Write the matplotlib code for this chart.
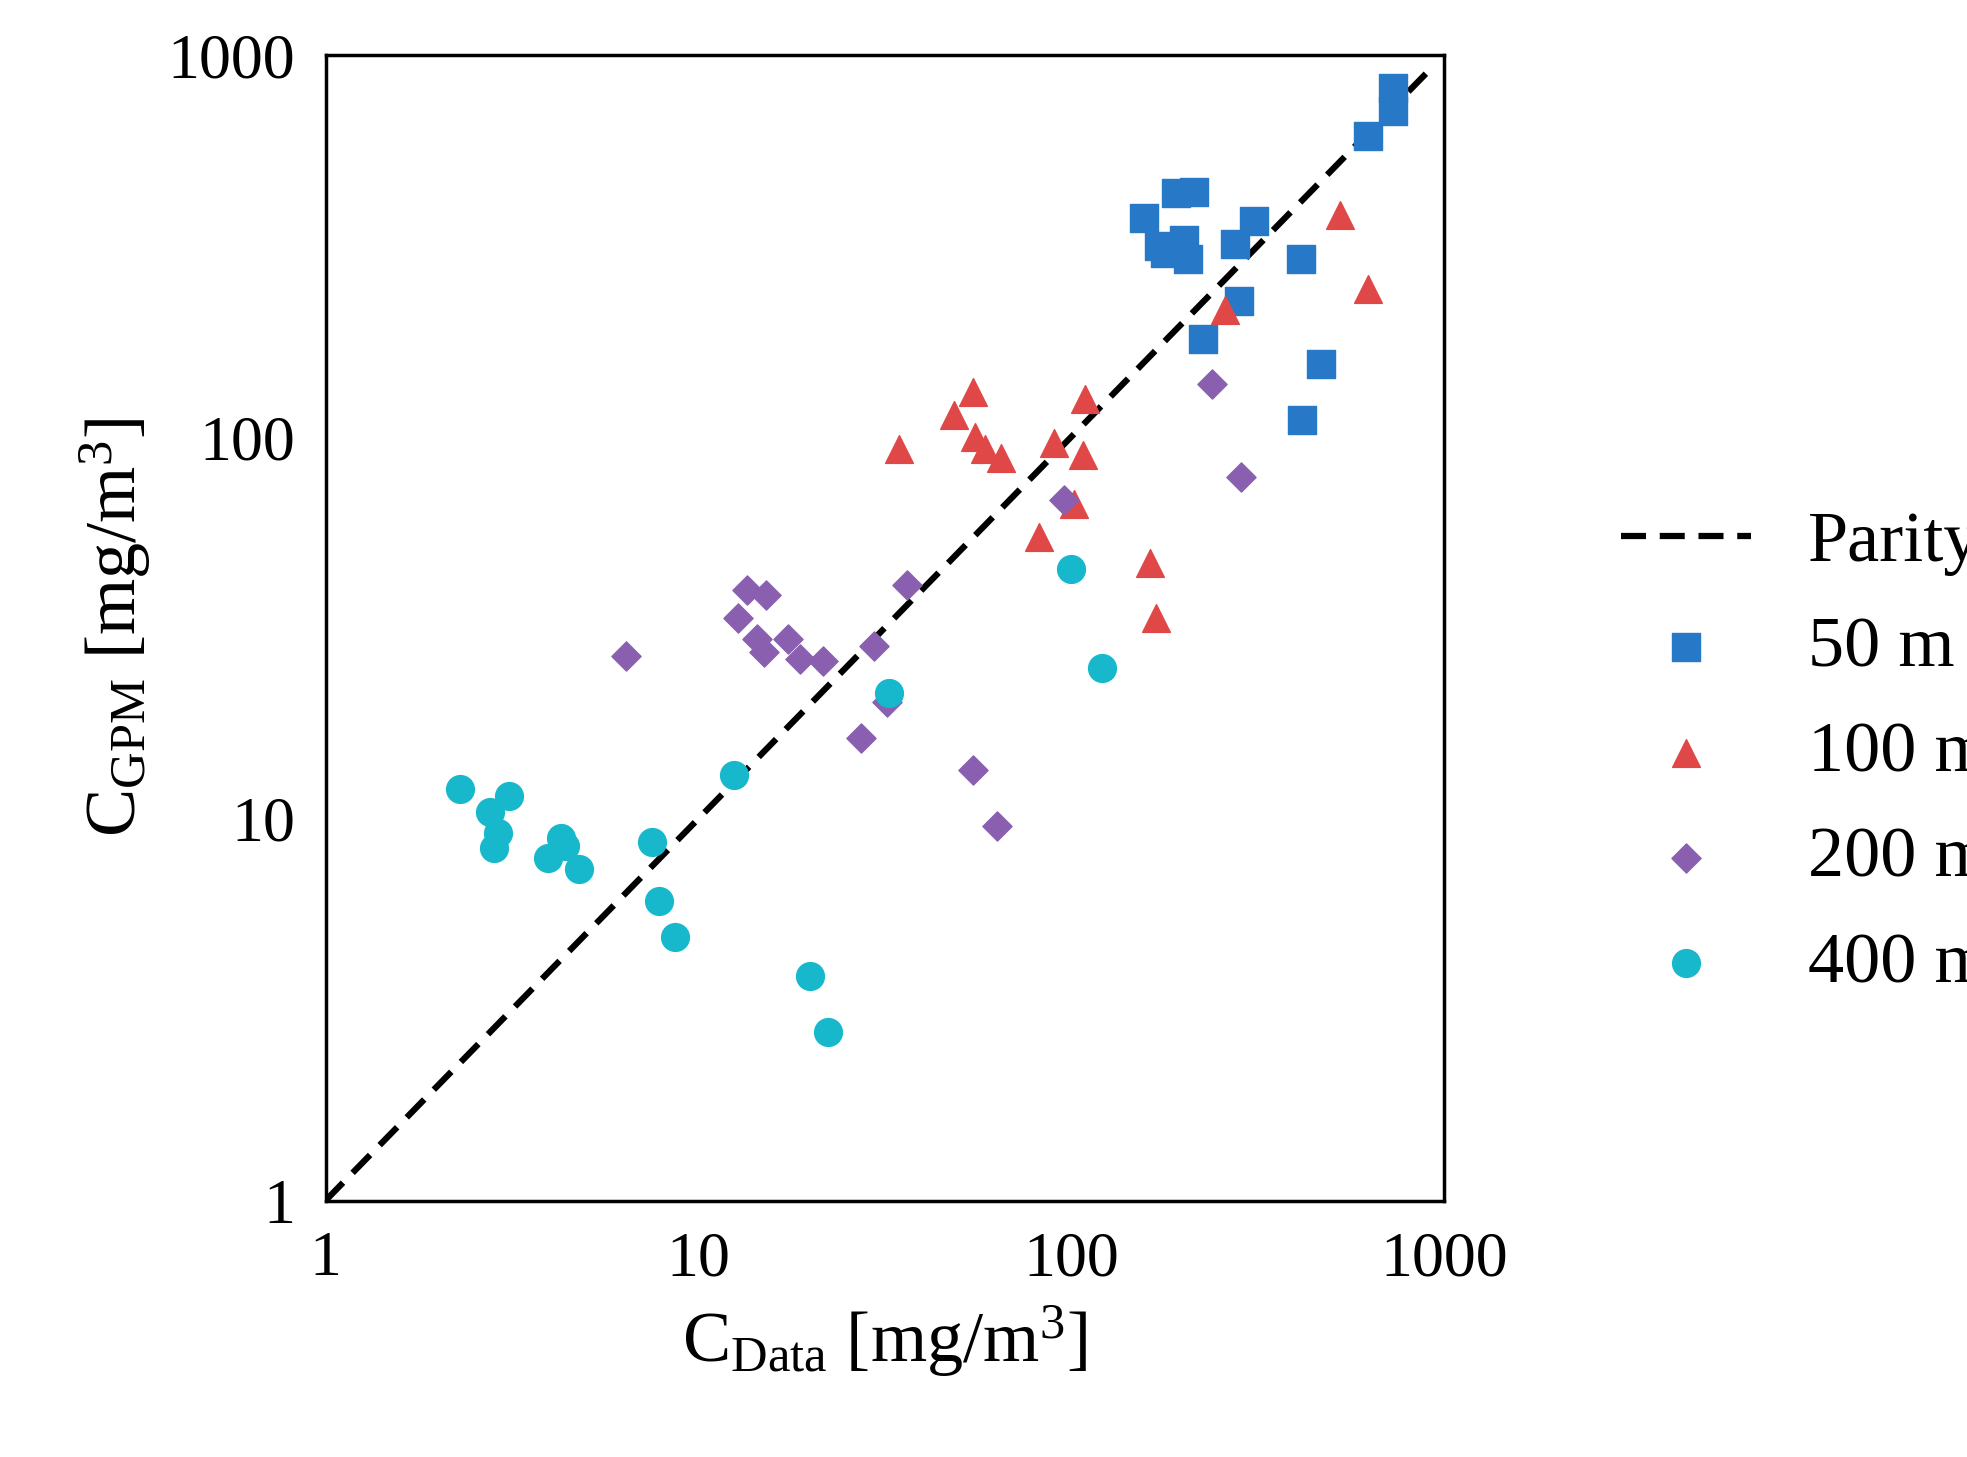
import matplotlib
matplotlib.use("Agg")
import matplotlib.pyplot as plt
from matplotlib.ticker import FixedLocator, NullLocator

plt.rcParams['font.family'] = 'Liberation Serif'
plt.rcParams['mathtext.fontset'] = 'custom'
plt.rcParams['mathtext.rm'] = 'Liberation Serif'
plt.rcParams['mathtext.it'] = 'Liberation Serif:italic'

x50 = [731, 731, 626, 157, 191, 214, 172, 201, 179, 206, 275, 310, 413, 282, 226, 469, 417]
y50 = [820, 715, 613, 376, 435, 438, 316, 328, 304, 293, 321, 368, 293, 227, 181, 155, 111]
x100 = [527, 626, 259, 48.5, 54.5, 55.3, 58.9, 64.7, 34.6, 89.9, 109, 108, 102, 81.8, 163, 169]
y100 = [382, 245, 215, 114, 131, 100, 93, 88, 93, 96.6, 126, 89.5, 66.9, 54.8, 46.7, 33.6]
x200 = [239, 286, 95.7, 6.4, 12.8, 13.5, 15.2, 14.4, 15.0, 17.4, 18.8, 21.6, 29.6, 36.3, 27.4, 32.0, 54.5, 63.2]
y200 = [138, 78.5, 68.4, 26.7, 33.6, 39.8, 38.6, 29.5, 27.3, 29.5, 26.3, 25.9, 28.4, 41.0, 16.3, 20.2, 13.4, 9.6]
x400 = [100, 121, 32.5, 12.5, 2.29, 3.11, 2.77, 2.90, 2.83, 4.29, 4.39, 3.94, 4.78, 7.53, 7.83, 8.67, 20.0, 22.3]
y400 = [45, 24.8, 21.3, 13.0, 12.0, 11.5, 10.4, 9.2, 8.4, 8.9, 8.5, 7.9, 7.4, 8.7, 6.1, 4.9, 3.87, 2.76]
parity = [1, 925]
ticks = [1, 10, 100, 1000]
tick_labels = ["1", "10", "100", "1000"]

fig = plt.figure(figsize=(19.67, 14.57), dpi=100)
ax = fig.add_axes([0.1655, 0.176, 0.5685, 0.786])
ax.plot(parity, parity, ls=(0, (4, 2.2)), color='black', lw=4.5, label='Parity', zorder=1)
ms = 400
ax.scatter(x50, y50, marker='s', s=ms, color='#2878c8', label='50 m', zorder=3)
ax.scatter(x100, y100, marker='^', s=ms, color='#e04848', label='100 m', zorder=3)
ax.scatter(x200, y200, marker='D', s=ms*0.55, color='#8a5fb0', label='200 m', zorder=3)
ax.scatter(x400, y400, marker='o', s=ms, color='#17b8cc', label='400 m', zorder=3)
ax.set_xscale('log'); ax.set_yscale('log')
ax.set_xlim(1, 1000); ax.set_ylim(1, 1000)
for a in (ax.xaxis, ax.yaxis):
    a.set_major_locator(FixedLocator(ticks))
    a.set_minor_locator(NullLocator())
ax.set_xticklabels(tick_labels); ax.set_yticklabels(tick_labels)
ax.tick_params(length=0, labelsize=46, pad=22)
for s in ax.spines.values():
    s.set_linewidth(2.5)
ax.set_xlabel(r'C$_{\mathrm{Data}}$ [mg/m$^3$]', fontsize=52, labelpad=10)
ax.set_ylabel(r'C$_{\mathrm{GPM}}$ [mg/m$^3$]', fontsize=52, labelpad=10)
ax.legend(loc='center left', bbox_to_anchor=(1.1, 0.39), frameon=False, fontsize=52,
          labelspacing=0.55, handlelength=1.8, handletextpad=0.8)
fig.savefig('out.png', dpi=100)
